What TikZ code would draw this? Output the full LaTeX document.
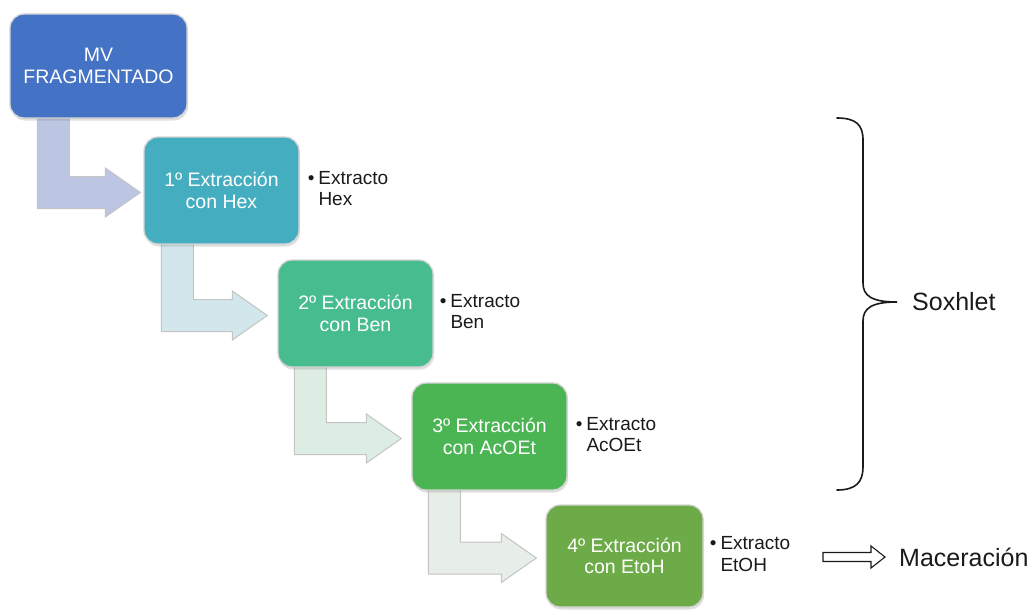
\documentclass[tikz,border=0pt]{standalone}
\usepackage{fontspec}
\setmainfont{Liberation Sans}
\usetikzlibrary{calc,shadows,backgrounds}
\definecolor{c0}{HTML}{4472C4}
\definecolor{c1}{HTML}{44AEC0}
\definecolor{c2}{HTML}{47BD8F}
\definecolor{c3}{HTML}{4BB553}
\definecolor{c4}{HTML}{6DAB48}
\definecolor{a1}{HTML}{BCC6E3}
\definecolor{a2}{HTML}{D2E7EB}
\definecolor{a3}{HTML}{DDEDE4}
\definecolor{a4}{HTML}{E7EEE7}
\definecolor{boxborder}{HTML}{D4D4D4}
\definecolor{arrowborder}{HTML}{C4C4C4}
\definecolor{inkc}{HTML}{1A1A1A}
% from, to, stem offset, gap, colour
\newcommand{\bentarrow}[5]{%
  \filldraw[fill=#5, draw=arrowborder, line width=1pt, line join=miter]
    let \p1=(#1.west), \p2=(#1.south), \p3=(#2.west),
        \n1={\x1+#3pt}, \n2={\x3-#4pt}, \n3={\y3-2pt} in
    (\n1, \y2+3pt) -- (\n1+32pt, \y2+3pt) -- (\n1+32pt, \n3+16pt)
    -- (\n2-35pt, \n3+16pt) -- (\n2-35pt, \n3+24.5pt) -- (\n2, \n3)
    -- (\n2-35pt, \n3-24.5pt) -- (\n2-35pt, \n3-16pt) -- (\n1, \n3-16pt) -- cycle;}
\begin{document}
\begin{tikzpicture}[x=1pt,y=-1pt,
  stepbox/.style={draw=boxborder, line width=1.3pt, rounded corners=14pt,
    minimum width=155pt, minimum height=107pt, inner sep=2pt, align=center,
    text=white, font=\fontsize{19.5}{21.5}\selectfont,
    drop shadow={opacity=0.25, shadow xshift=1pt, shadow yshift=-2.5pt}},
  bullettext/.style={anchor=west, inner sep=0pt, text=inkc,
    font=\fontsize{19}{21.5}\selectfont},
  bigtext/.style={anchor=west, inner sep=0pt, text=inkc,
    font=\fontsize{25}{28}\selectfont},
  brace/.style={draw=inkc, line width=1.6pt, line cap=round},
  hollowarrow/.style={draw=inkc, fill=white, line width=1.1pt, line join=miter}]
\useasboundingbox (0,0) rectangle (1035,610);

\node[stepbox, fill=c0, minimum width=177pt, minimum height=104pt] (b0) at (98.5,66) {MV\\FRAGMENTADO};
\node[stepbox, fill=c1] (b1) at (221.5,190.5) {1º Extracción\\con Hex};
\node[stepbox, fill=c2] (b2) at (355.5,313.5) {2º Extracción\\con Ben};
\node[stepbox, fill=c3] (b3) at (489.5,436.5) {3º Extracción\\con AcOEt};
\node[stepbox, fill=c4, minimum width=157pt, minimum height=102pt] (b4) at (624.5,556) {4º Extracción\\con EtoH};

\begin{scope}[on background layer]
\bentarrow{b0}{b1}{28}{3}{a1}
\bentarrow{b1}{b2}{18}{10}{a2}
\bentarrow{b2}{b3}{17}{10}{a3}
\bentarrow{b3}{b4}{17}{9}{a4}
\end{scope}

\node[bullettext] (e1) at ($(b1.east)+(8,0)$) {\begin{tabular}{@{}l@{\hspace{4pt}}l@{}}\textbullet & Extracto\\ & Hex\end{tabular}};
\node[bullettext] (e2) at ($(b2.east)+(6,0)$) {\begin{tabular}{@{}l@{\hspace{4pt}}l@{}}\textbullet & Extracto\\ & Ben\end{tabular}};
\node[bullettext] (e3) at ($(b3.east)+(8,0)$) {\begin{tabular}{@{}l@{\hspace{4pt}}l@{}}\textbullet & Extracto\\ & AcOEt\end{tabular}};
\node[bullettext] (e4) at ($(b4.east)+(6,0)$) {\begin{tabular}{@{}l@{\hspace{4pt}}l@{}}\textbullet & Extracto\\ & EtOH\end{tabular}};

\coordinate (btip) at (897,302);
\node[bigtext] (sox) at (912,302) {Soxhlet};
\draw[brace] (837,118) .. controls (856,118) and (863,125) .. (863,140) -- (863,283)
  .. controls (863,296) and (872,302) .. (btip)
  .. controls (872,302) and (863,308) .. (863,321) -- (863,467)
  .. controls (863,482) and (856,490) .. (837,490);

\node[bigtext] (mac) at (899,557) {Maceración};
\draw[hollowarrow] let \p1=(mac.west) in
  (\x1-76pt,\y1+4.5pt) -- (\x1-28pt,\y1+4.5pt) -- (\x1-28pt,\y1+11pt) -- (\x1-14pt,\y1)
  -- (\x1-28pt,\y1-11pt) -- (\x1-28pt,\y1-4.5pt) -- (\x1-76pt,\y1-4.5pt) -- cycle;
\end{tikzpicture}
\end{document}
